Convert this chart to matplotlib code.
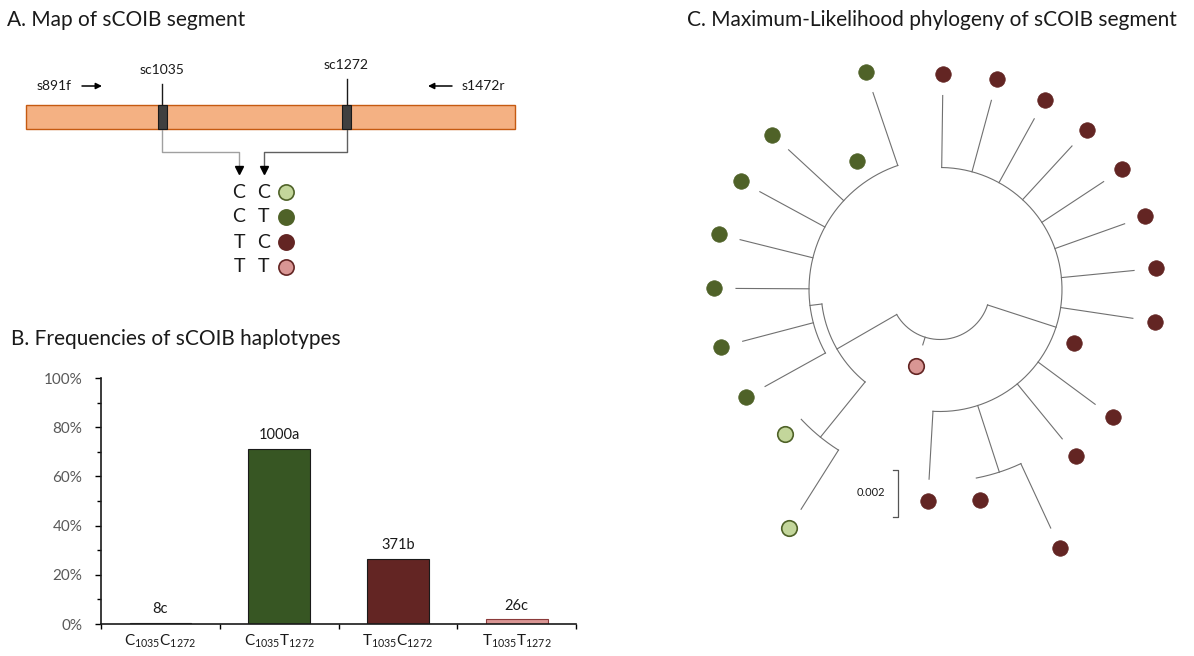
import numpy as np
import matplotlib
matplotlib.use("Agg")
import matplotlib.pyplot as plt
from matplotlib.patches import Rectangle

plt.rcParams['font.family'] = ['Lato', 'DejaVu Sans']
plt.rcParams['mathtext.fontset'] = 'custom'
plt.rcParams['mathtext.rm'] = 'Lato'
plt.rcParams['mathtext.it'] = 'Lato:italic'

# ---------------- data ----------------
haplotypes = ['CC', 'CT', 'TC', 'TT']
hap_face = {'CC': '#c3d69b', 'CT': '#4f6228', 'TC': '#632523', 'TT': '#d99694'}
hap_edge = {'CC': '#4f6228', 'CT': '#4f6228', 'TC': '#632523', 'TT': '#632523'}

# Panel B
bar_labels = [r'$\mathregular{C_{1035}C_{1272}}$', r'$\mathregular{C_{1035}T_{1272}}$',
              r'$\mathregular{T_{1035}C_{1272}}$', r'$\mathregular{T_{1035}T_{1272}}$']
bar_pct = [0.6, 71.2, 26.4, 1.9]
bar_text = ['8c', '1000a', '371b', '26c']
bar_face = ['#7f7f7f', '#375623', '#632523', '#da9694']
bar_edge = ['#404040', '#1a1a1a', '#1a1a1a', '#8b3a3a']

# Panel C: tree (polar layout: angle in degrees clockwise from top, radius in px)
node_names = ['root', 'red', 'redsub', 'green', 'lg', 'green2']
node_parent = [None, 'root', 'red', 'root', 'green', 'green']
node_radius = [50, 122, 192, 119, 190, 131]
node_angle = [180, 108, 162, 240, 219, 263]

tip_angle = [0.8, 15.2, 28.9, 42.6, 56.6, 70.4, 84.4, 98.5, 111.8, 126.5, 140.7,
             155.1, 169.1, 183.3, 197.3, 212.3, 226.9, 241.0, 255.3, 270.3, 284.0,
             298.5, 312.7, 327.1, 341.2]
tip_end = [194, 196, 195, 195, 196, 196, 195, 195, 122, 193, 193,
           263, 192, 190, 58, 260, 190, 200, 204, 204, 206, 205, 206, 131, 208]
tip_parent = ['red'] * 11 + ['redsub', 'redsub', 'red', 'root', 'lg', 'lg'] + ['green2'] * 8
tip_hap = ['TC'] * 14 + ['TT'] + ['CC', 'CC'] + ['CT'] * 8
scale_value = '0.002'

# ---------------- figure ----------------
fig = plt.figure(figsize=(11.94, 6.56), dpi=100)
ax0 = fig.add_axes([0, 0, 1, 1])
ax0.set_xlim(0, 1194)
ax0.set_ylim(656, 0)
ax0.axis('off')

TXT = '#1a1a1a'
title_fs = 15
ax0.text(7, 26, 'A. Map of sCOIB segment', fontsize=title_fs, color=TXT, va='baseline')
ax0.text(11, 345, 'B. Frequencies of sCOIB haplotypes', fontsize=title_fs, color=TXT, va='baseline')
ax0.text(687, 26, 'C. Maximum-Likelihood phylogeny of sCOIB segment', fontsize=title_fs, color=TXT, va='baseline')

# ---------------- Panel A ----------------
ax0.add_patch(Rectangle((26, 105), 489, 24, facecolor='#f4b183', edgecolor='#c55a11', lw=1))
snp_names = ['sc1035', 'sc1272']
snp_x = [162, 346.5]
snp_label_y = [70, 65]
snp_line_top = [84, 79]
for nm, x, ly, lt in zip(snp_names, snp_x, snp_label_y, snp_line_top):
    ax0.add_patch(Rectangle((x - 4.5, 105), 9, 24, facecolor='#404040', edgecolor='#1a1a1a', lw=0.8, zorder=3))
    ax0.plot([x, x], [lt, 105], color='#1a1a1a', lw=1)
    ax0.text(x, ly, nm, fontsize=10, ha='center', va='center', color=TXT)

ax0.text(37, 86, 's891f', fontsize=10, ha='left', va='center', color=TXT)
ax0.annotate('', xy=(102, 86), xytext=(82, 86),
             arrowprops=dict(arrowstyle='-|>', color='black', lw=1.1, mutation_scale=9, shrinkA=0, shrinkB=0))
ax0.text(462, 86, 's1472r', fontsize=10, ha='left', va='center', color=TXT)
ax0.annotate('', xy=(428, 86), xytext=(452, 86),
             arrowprops=dict(arrowstyle='-|>', color='black', lw=1.1, mutation_scale=9, shrinkA=0, shrinkB=0))

col_x = [239, 264]
ax0.plot([snp_x[0], snp_x[0], col_x[0], col_x[0]], [129, 152, 152, 168], color='#a0a0a0', lw=1)
ax0.plot([snp_x[1], snp_x[1], col_x[1], col_x[1]], [129, 152, 152, 168], color='#606060', lw=1)
ax0.plot(col_x, [170, 170], linestyle='none', marker='v', ms=5.5, color='black')

row_y = [192, 217, 242, 267]
for hap, y in zip(haplotypes, row_y):
    ax0.text(col_x[0], y, hap[0], fontsize=14, ha='center', va='center', color=TXT)
    ax0.text(col_x[1], y, hap[1], fontsize=14, ha='center', va='center', color=TXT)
    ax0.scatter([285.5], [y], s=120, facecolor=hap_face[hap], edgecolor=hap_edge[hap], lw=1.2, zorder=4)

# ---------------- Panel C ----------------
cx, cy = 940, 289.5
LC = '#707070'


def pol(r, a):
    a = np.radians(a)
    return cx + r * np.sin(a), cy - r * np.cos(a)


nrad = dict(zip(node_names, node_radius))
nang = dict(zip(node_names, node_angle))
npar = dict(zip(node_names, node_parent))

# radial branches for internal nodes
for nm in node_names:
    p = npar[nm]
    if p is None:
        continue
    x, y = pol(np.array([nrad[p], nrad[nm]]), nang[nm])
    ax0.plot(x, y, color=LC, lw=0.8)
# arcs
for nm in node_names:
    ch = [a for a, p in zip(tip_angle, tip_parent) if p == nm]
    ch += [nang[c] for c in node_names if npar[c] == nm]
    a = np.linspace(min(ch), max(ch), 200)
    x, y = pol(nrad[nm], a)
    ax0.plot(x, y, color=LC, lw=0.8)
# tip branches and circles
for a, e, p, h in zip(tip_angle, tip_end, tip_parent, tip_hap):
    x, y = pol(np.array([nrad[p], e]), a)
    ax0.plot(x, y, color=LC, lw=0.8)
    xc, yc = pol(e + 22, a)
    ax0.scatter([xc], [yc], s=125, facecolor=hap_face[h], edgecolor=hap_edge[h],
                lw=1.2 if h in ('CC', 'TT') else 0.5, zorder=4)

# scale bar
ax0.plot([893, 897.5, 897.5, 893], [470, 470, 517, 517], color='#555555', lw=0.9)
ax0.text(871, 493, scale_value, fontsize=8, ha='center', va='center', color=TXT)

# ---------------- Panel B ----------------
W, H = 1194, 656
axB = fig.add_axes([101 / W, (H - 624) / H, (576 - 101) / W, 246 / H])
xs = np.arange(len(bar_pct))
axB.bar(xs, bar_pct, width=0.52, color=bar_face, edgecolor=bar_edge, linewidth=0.8, zorder=2)
for x, v, t in zip(xs, bar_pct, bar_text):
    axB.text(x, v + 5.6, t, ha='center', va='center', fontsize=10.5, color=TXT)
axB.set_xlim(-0.5, 3.5)
axB.set_ylim(0, 100)
axB.set_yticks(np.arange(0, 101, 20))
axB.set_yticklabels([f'{v}%' for v in range(0, 101, 20)])
axB.set_yticks(np.arange(0, 101, 10), minor=True)
axB.set_xticks(np.arange(-0.5, 3.6, 1.0))
axB.set_xticklabels([])
axB.set_xticks(xs, minor=True)
axB.set_xticklabels(bar_labels, minor=True)
axB.tick_params(axis='y', which='major', length=4.5, width=1, labelsize=11, labelcolor='#595959', pad=9, direction='out')
axB.tick_params(axis='y', which='minor', length=3, width=1, direction='out')
axB.tick_params(axis='x', which='major', length=3.5, width=1, direction='out')
axB.tick_params(axis='x', which='minor', length=0, labelsize=11, labelcolor=TXT, pad=6)
for s in ['top', 'right']:
    axB.spines[s].set_visible(False)
for s in ['left', 'bottom']:
    axB.spines[s].set_linewidth(1.2)
    axB.spines[s].set_color('#1a1a1a')
axB.patch.set_alpha(0)

fig.savefig('out.png', dpi=100)
